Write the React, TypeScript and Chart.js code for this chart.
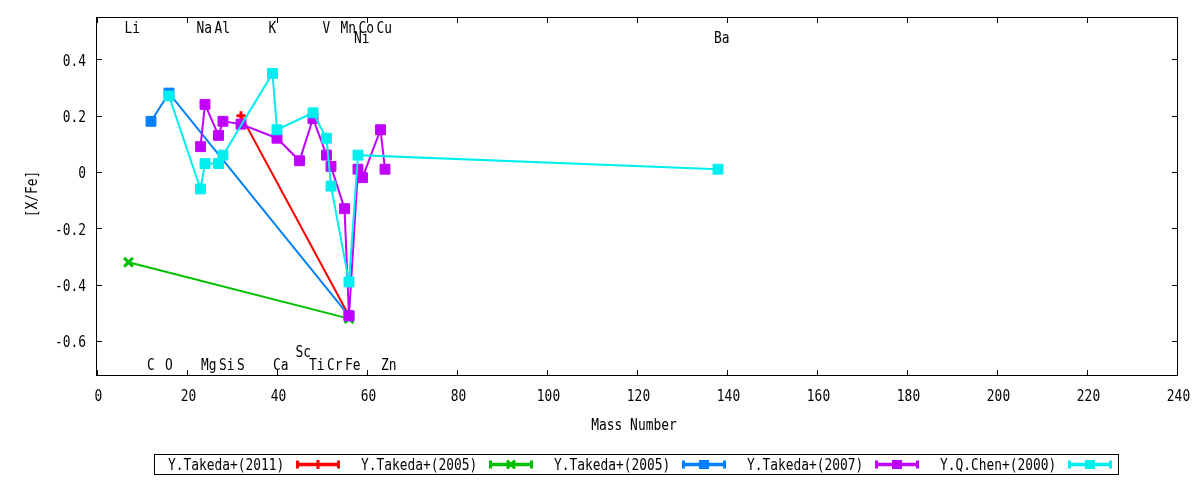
import { useEffect, useRef } from 'react';
import { Chart, registerables } from 'chart.js';

Chart.register(...registerables);

// ---------- data ----------
const seriesLabels = ['Y.Takeda+(2011)', 'Y.Takeda+(2005)', 'Y.Takeda+(2005)', 'Y.Takeda+(2007)', 'Y.Q.Chen+(2000)'];

const takeda2011Mass = [32, 56];
const takeda2011Val = [0.2, -0.51];

const takeda2005aMass = [7, 56];
const takeda2005aVal = [-0.32, -0.52];

const takeda2005bMass = [12, 16, 56];
const takeda2005bVal = [0.18, 0.28, -0.51];

const takeda2007Mass = [23, 24, 27, 28, 32, 40, 45, 48, 51, 52, 55, 56, 58, 59, 63, 64];
const takeda2007Val = [0.09, 0.24, 0.13, 0.18, 0.17, 0.12, 0.04, 0.19, 0.06, 0.02, -0.13, -0.51, 0.01, -0.02, 0.15, 0.01];

const chen2000Mass = [16, 23, 24, 27, 28, 39, 40, 48, 51, 52, 56, 58, 138];
const chen2000Val = [0.27, -0.06, 0.03, 0.03, 0.06, 0.35, 0.15, 0.21, 0.12, -0.05, -0.39, 0.06, 0.01];

const elementNames = ['Li', 'C', 'O', 'Na', 'Mg', 'Al', 'Si', 'S', 'K', 'Ca', 'Sc', 'Ti', 'V', 'Cr', 'Mn', 'Fe', 'Co', 'Ni', 'Cu', 'Zn', 'Ba'];
const elementMass = [7, 12, 16, 23, 24, 27, 28, 32, 39, 40, 45, 48, 51, 52, 55, 56, 59, 58, 63, 64, 138];
// 0: top row, 1: second top row, 2: bottom row, 3: second bottom row
const elementRow = [0, 2, 2, 0, 2, 0, 2, 2, 0, 2, 3, 2, 0, 2, 0, 2, 0, 1, 0, 2, 1];

const xTicks = [0, 20, 40, 60, 80, 100, 120, 140, 160, 180, 200, 220, 240];
const xTickLabels = ['0', '20', '40', '60', '80', '100', '120', '140', '160', '180', '200', '220', '240'];
const yTicks = [-0.6, -0.4, -0.2, 0, 0.2, 0.4];
const yTickLabels = ['-0.6', '-0.4', '-0.2', '0', '0.2', '0.4'];

const xTitle = 'Mass Number';
const yTitle = '[X/Fe]';

// ---------- styles ----------
const colors = ['#ff0000', '#00c000', '#0080ff', '#c000ff', '#00eeee'];
const pointStyles = ['cross', 'crossRot', 'rect', 'rect', 'rect'];
const pointRadii = [4.5, 6.2, 7, 7, 7];
const pointBorders = [3, 3, 1, 1, 1];
const drawOrder = [5, 4, 3, 2, 1];

const SX = 0.805;
const FONT = '16px "DejaVu Sans Mono", monospace';

function txt(ctx: CanvasRenderingContext2D, s: string, x: number, y: number, align: CanvasTextAlign, rot = 0) {
  ctx.save();
  ctx.translate(x, y);
  if (rot) ctx.rotate(rot);
  ctx.scale(SX, 1);
  ctx.font = FONT;
  ctx.fillStyle = '#000';
  ctx.textAlign = align;
  ctx.textBaseline = 'alphabetic';
  ctx.fillText(s, 0, 0);
  ctx.restore();
}

const decorPlugin = {
  id: 'gnuDecor',
  afterDraw(chart: any) {
    const ctx: CanvasRenderingContext2D = chart.ctx;
    const ca = chart.chartArea;
    const xs = chart.scales.x;
    const ys = chart.scales.y;
    ctx.save();
    ctx.strokeStyle = '#000';
    ctx.lineWidth = 1;
    // frame
    ctx.strokeRect(ca.left - 0.5, ca.top + 0.5, ca.right - ca.left + 1, ca.bottom - ca.top);
    // ticks
    ctx.beginPath();
    xTicks.forEach((v) => {
      const px = Math.round(xs.getPixelForValue(v)) + 0.5;
      ctx.moveTo(px, ca.bottom);
      ctx.lineTo(px, ca.bottom - 5);
      ctx.moveTo(px, ca.top + 1);
      ctx.lineTo(px, ca.top + 6);
    });
    yTicks.forEach((v) => {
      const py = Math.round(ys.getPixelForValue(v)) + 0.5;
      ctx.moveTo(ca.left, py);
      ctx.lineTo(ca.left + 5, py);
      ctx.moveTo(ca.right, py);
      ctx.lineTo(ca.right - 5, py);
    });
    ctx.stroke();
    // tick labels
    xTicks.forEach((v, i) => {
      txt(ctx, xTickLabels[i], xs.getPixelForValue(v) + 1.5, ca.bottom + 26, 'center');
    });
    yTicks.forEach((v, i) => {
      txt(ctx, yTickLabels[i], ca.left - 11, ys.getPixelForValue(v) + 6.3, 'right');
    });
    // axis titles
    txt(ctx, xTitle, (ca.left + ca.right) / 2 - 3, ca.bottom + 55, 'center');
    txt(ctx, yTitle, 37, (ca.top + ca.bottom) / 2 - 2, 'center', -Math.PI / 2);
    // element labels
    const rowY = [ca.top + 16.3, ca.top + 26.3, ca.bottom - 5, ca.bottom - 18.3];
    elementNames.forEach((n, i) => {
      txt(ctx, n, xs.getPixelForValue(elementMass[i]) - 4, rowY[elementRow[i]], 'left');
    });
    // legend
    const boxL = 154.5, boxT = 454.5, boxW = 964, boxH = 20;
    ctx.strokeStyle = '#000';
    ctx.lineWidth = 1;
    ctx.strokeRect(boxL, boxT, boxW, boxH);
    const cy = 464.5;
    seriesLabels.forEach((lab, i) => {
      const tl = 168 + 193 * i;
      txt(ctx, lab, tl, 470, 'left');
      const sl = tl + 128;
      const sw = 44;
      const c = colors[i];
      ctx.strokeStyle = c;
      ctx.fillStyle = c;
      ctx.lineWidth = 3.5;
      ctx.beginPath();
      ctx.moveTo(sl, cy);
      ctx.lineTo(sl + sw, cy);
      ctx.stroke();
      ctx.lineWidth = 3;
      ctx.beginPath();
      ctx.moveTo(sl + 1.5, cy - 4);
      ctx.lineTo(sl + 1.5, cy + 4);
      ctx.moveTo(sl + sw - 1.5, cy - 4);
      ctx.lineTo(sl + sw - 1.5, cy + 4);
      ctx.stroke();
      const cx = sl + sw / 2;
      const st = pointStyles[i];
      if (st === 'cross') {
        ctx.beginPath();
        ctx.moveTo(cx, cy - 4.5);
        ctx.lineTo(cx, cy + 4.5);
        ctx.stroke();
      } else if (st === 'crossRot') {
        ctx.beginPath();
        ctx.moveTo(cx - 4, cy - 4);
        ctx.lineTo(cx + 4, cy + 4);
        ctx.moveTo(cx - 4, cy + 4);
        ctx.lineTo(cx + 4, cy - 4);
        ctx.stroke();
      } else {
        ctx.fillRect(cx - 5, cy - 4.5, 10, 9);
      }
    });
    ctx.restore();
  },
};

function mk(i: number, mass: number[], vals: number[]) {
  return {
    label: seriesLabels[i],
    data: mass.map((m, k) => ({ x: m, y: vals[k] })),
    showLine: true,
    borderColor: colors[i],
    backgroundColor: colors[i],
    borderWidth: 2,
    pointStyle: pointStyles[i],
    pointRadius: pointRadii[i],
    pointBorderWidth: pointBorders[i],
    pointBorderColor: colors[i],
    pointBackgroundColor: colors[i],
    pointHoverRadius: pointRadii[i],
    tension: 0,
    order: drawOrder[i],
  };
}

export default function App() {
  const ref = useRef<HTMLCanvasElement>(null);
  useEffect(() => {
    const datasets = [
      mk(0, takeda2011Mass, takeda2011Val),
      mk(1, takeda2005aMass, takeda2005aVal),
      mk(2, takeda2005bMass, takeda2005bVal),
      mk(3, takeda2007Mass, takeda2007Val),
      mk(4, chen2000Mass, chen2000Val),
    ];
    const chart = new Chart(ref.current as HTMLCanvasElement, {
      type: 'scatter',
      data: { datasets } as any,
      options: {
        responsive: false,
        devicePixelRatio: 1,
        animation: false,
        events: [],
        layout: { padding: { left: 0, top: 17, right: 23, bottom: 0 } },
        plugins: { legend: { display: false }, tooltip: { enabled: false } },
        scales: {
          x: {
            type: 'linear',
            min: 0,
            max: 240,
            grid: { display: false, drawTicks: false },
            border: { display: false },
            ticks: { display: false },
            afterBuildTicks: (s: any) => {
              s.ticks = xTicks.map((v) => ({ value: v }));
            },
            afterFit: (s: any) => {
              s.height = 105;
            },
          },
          y: {
            type: 'linear',
            min: -0.72,
            max: 0.55,
            grid: { display: false, drawTicks: false },
            border: { display: false },
            ticks: { display: false },
            afterBuildTicks: (s: any) => {
              s.ticks = yTicks.map((v) => ({ value: v }));
            },
            afterFit: (s: any) => {
              s.width = 97;
            },
          },
        },
      } as any,
      plugins: [decorPlugin],
    });
    return () => chart.destroy();
  }, []);
  return (
    <div style={{ position: 'absolute', left: 0, top: 0, width: 1200, height: 480, background: '#fff' }}>
      <canvas ref={ref} width={1200} height={480} style={{ display: 'block', width: 1200, height: 480 }} />
    </div>
  );
}
